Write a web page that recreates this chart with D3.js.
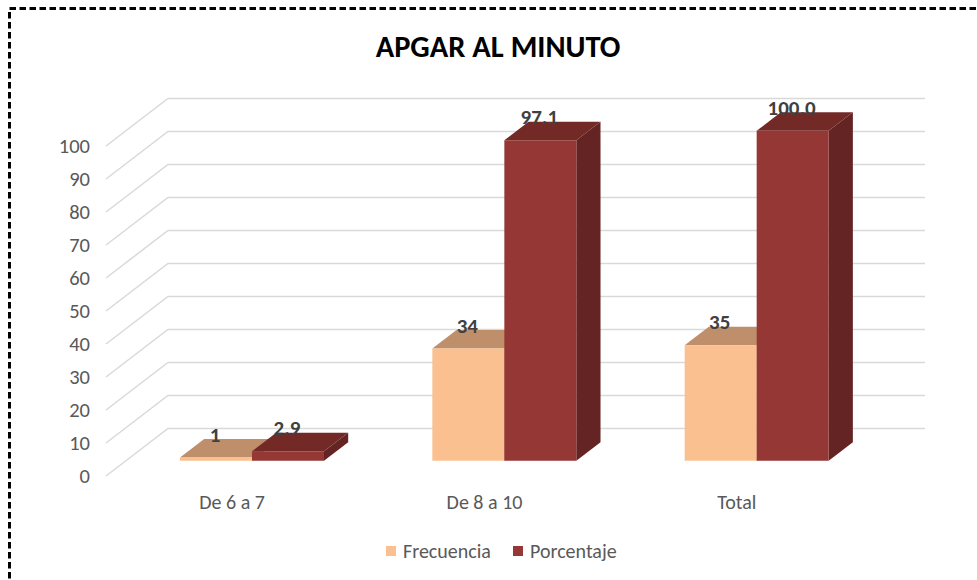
<!DOCTYPE html>
<html><head><meta charset="utf-8">
<script src="https://cdn.jsdelivr.net/npm/d3@7"></script>
<style>body{margin:0;background:#fff;}svg{display:block;}</style>
</head><body>
<svg id="c" width="977" height="580"></svg>
<script>
const title = "APGAR AL MINUTO";
const categories = ["De 6 a 7", "De 8 a 10", "Total"];
const seriesNames = ["Frecuencia", "Porcentaje"];
const frecuencia = [1, 34, 35];
const porcentaje = [2.9, 97.1, 100.0];
const frecuenciaLabels = ["1", "34", "35"];
const porcentajeLabels = ["2.9", "97.1", "100.0"];
const yTicks = [0, 10, 20, 30, 40, 50, 60, 70, 80, 90, 100];

const FONT = "Carlito, Calibri, Lato, sans-serif";
const colors = {
  Frecuencia: {front: "#FAC090", top: "#BE8F6A", side: "#B4845F"},
  Porcentaje: {front: "#953735", top: "#732A27", side: "#632423"}
};

const svg = d3.select("#c");
// dashed frame
svg.append("rect").attr("x", 9.5).attr("y", 8.5).attr("width", 1000).attr("height", 600)
  .attr("fill", "none").attr("stroke", "#000").attr("stroke-width", 3).attr("stroke-dasharray", "6.5,3.5");

// projection
const DX = 62, DY = 47.5;
const y = d3.scaleLinear().domain([0, 100]).range([476, 146]);
const x = d3.scaleBand().domain(categories).range([106, 863]).paddingInner(0.4293).paddingOuter(0.4293 / 2);
const xs = d3.scaleBand().domain(seriesNames).range([0, x.bandwidth()]);
const proj = (px, v, z) => [px + z * DX, y(v) - z * DY];

const g = svg.append("g");
// gridlines: side wall diagonals + back wall horizontals
yTicks.forEach(t => {
  const a = proj(106, t, 0), b = proj(106, t, 1), c = proj(863, t, 1);
  g.append("path").attr("d", `M${a[0]},${a[1]}L${b[0]},${b[1]}L${c[0]},${c[1]}`)
    .attr("fill", "none").attr("stroke", "#D9D9D9").attr("stroke-width", 1.5);
  g.append("text").attr("x", 90).attr("y", y(t) + 7).attr("text-anchor", "end")
    .attr("font-family", FONT).attr("font-size", 20.5).attr("fill", "#595959").text(t);
});

// bars
const ZF = 0.32, ZB = 0.71;
const poly = pts => "M" + pts.map(p => p.join(",")).join("L") + "Z";
const labelData = [];
categories.forEach((cat, i) => {
  [["Frecuencia", frecuencia[i], frecuenciaLabels[i]], ["Porcentaje", porcentaje[i], porcentajeLabels[i]]].forEach(([s, v, lab]) => {
    const x0 = x(cat) + xs(s), x1 = x0 + xs.bandwidth();
    const col = colors[s];
    g.append("path").attr("d", poly([proj(x1, 0, ZF), proj(x1, v, ZF), proj(x1, v, ZB), proj(x1, 0, ZB)]))
      .attr("fill", col.side);
    g.append("path").attr("d", poly([proj(x0, v, ZF), proj(x1, v, ZF), proj(x1, v, ZB), proj(x0, v, ZB)]))
      .attr("fill", col.top);
    g.append("path").attr("d", poly([proj(x0, 0, ZF), proj(x1, 0, ZF), proj(x1, v, ZF), proj(x0, v, ZF)]))
      .attr("fill", col.front);
    const p = proj((x0 + x1) / 2, v, ZF);
    labelData.push({x: p[0] - 1, y: p[1] - 16, t: lab});
  });
});
labelData.forEach(d => {
  g.append("text").attr("x", d.x).attr("y", d.y).attr("text-anchor", "middle")
    .attr("font-family", FONT).attr("font-size", 21).attr("font-weight", "bold").attr("fill", "#404040").text(d.t);
});

// category labels
categories.forEach(cat => {
  g.append("text").attr("x", x(cat) + x.bandwidth() / 2).attr("y", 509).attr("text-anchor", "middle")
    .attr("font-family", FONT).attr("font-size", 20).attr("fill", "#595959").text(cat);
});

// title
svg.append("text").attr("x", 498).attr("y", 57).attr("text-anchor", "middle")
  .attr("font-family", FONT).attr("font-size", 30.5).attr("font-weight", "bold").attr("fill", "#000").text(title);

// legend
const legX = [386, 513];
seriesNames.forEach((s, i) => {
  svg.append("rect").attr("x", legX[i]).attr("y", 546).attr("width", 10).attr("height", 10).attr("fill", colors[s].front);
  svg.append("text").attr("x", legX[i] + 17).attr("y", 557.5).attr("font-family", FONT).attr("font-size", 20)
    .attr("fill", "#595959").text(s);
});
</script>
</body></html>
